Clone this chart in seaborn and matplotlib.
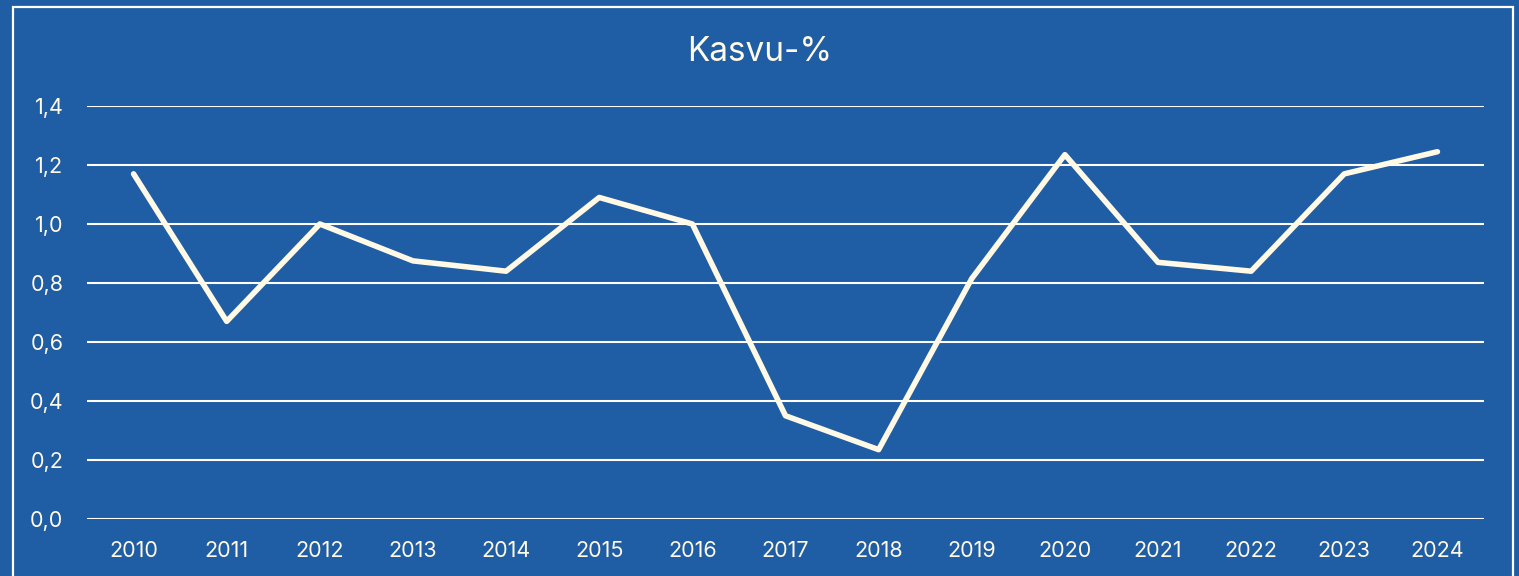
import matplotlib
matplotlib.use("Agg")
import matplotlib.pyplot as plt
from matplotlib.patches import Rectangle
import seaborn as sns
import pandas as pd

years = ["2010", "2011", "2012", "2013", "2014", "2015", "2016", "2017",
         "2018", "2019", "2020", "2021", "2022", "2023", "2024"]
growth = [1.17, 0.67, 1.00, 0.875, 0.84, 1.09, 1.00, 0.35,
          0.235, 0.815, 1.235, 0.87, 0.84, 1.17, 1.245]
y_ticks = [0.0, 0.2, 0.4, 0.6, 0.8, 1.0, 1.2, 1.4]
title = "Kasvu-%"

BG = "#1F5DA5"
LINE = "#FFF9E6"
TEXT = "#FFF9E6"

sns.set_theme(style="white")
plt.rcParams["font.family"] = ["Inter", "DejaVu Sans"]

df = pd.DataFrame({"year": years, "growth": growth})

fig = plt.figure(figsize=(15.19, 5.76), dpi=100, facecolor=BG)
W, H = 1519, 576
ax = fig.add_axes([87 / W, (H - 519) / H, (1484 - 87) / W, (519 - 106) / H])
ax.set_facecolor(BG)

for t in y_ticks:
    ax.axhline(t, color="white", lw=1.5, zorder=1)

sns.lineplot(data=df, x="year", y="growth", ax=ax, color=LINE, lw=4.0,
             zorder=3, solid_capstyle="round", solid_joinstyle="round")

ax.set_xlim(-0.5, len(years) - 0.5)
ax.set_ylim(0, 1.4)
ax.set_yticks(y_ticks)
ax.set_yticklabels([f"{t:.1f}".replace(".", ",") for t in y_ticks])
ax.set_xlabel("")
ax.set_ylabel("")
for s in ax.spines.values():
    s.set_visible(False)
ax.tick_params(axis="both", length=0, labelsize=15.5, labelcolor=TEXT)
ax.tick_params(axis="x", pad=16)
ax.tick_params(axis="y", pad=17)

fig.text(0.5, 1 - 52 / H, title, ha="center", va="center",
         fontsize=24, color=TEXT)

# chart frame, open at the bottom edge
fig.patches.append(Rectangle((13 / W, -0.05), 1500 / W, 1.05 - 7 / H,
                             transform=fig.transFigure, fill=False,
                             edgecolor="white", lw=1.6))

fig.savefig("out.png", dpi=100, facecolor=BG)
